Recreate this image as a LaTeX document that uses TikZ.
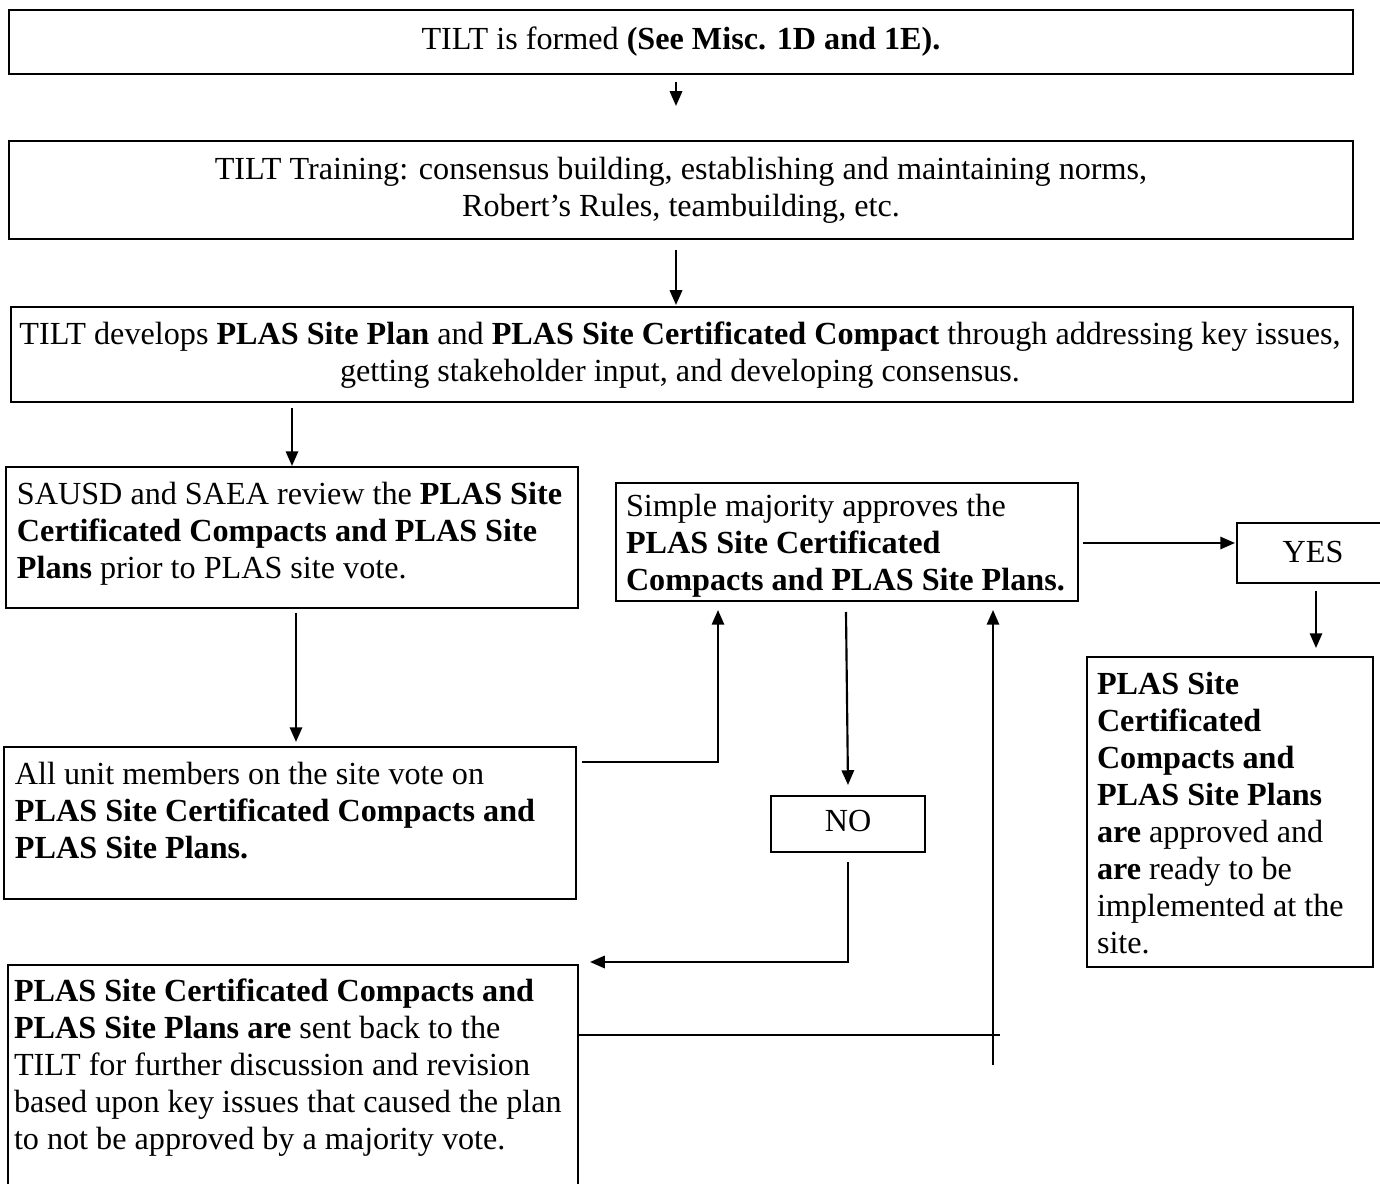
\documentclass[tikz,border=0pt]{standalone}
\usepackage{fontspec}
\setmainfont{Liberation Serif}
\usetikzlibrary{arrows.meta}
\def\upx{0.373pt}
\begin{document}
\begin{tikzpicture}[x=0.373pt,y=-0.373pt,
  box/.style={draw, line width=0.8pt, rectangle, inner sep=0pt, outer sep=0pt, anchor=north west},
  txt/.style={inner sep=0pt, outer sep=0pt, font=\fontsize{12pt}{13.8pt}\selectfont},
  conn/.style={line width=0.8pt},
  arr/.style={line width=0.8pt, -{Triangle[length=5.5pt,width=4.6pt]}}]
\useasboundingbox (0,0) rectangle (1380,1184);
% boxes
\node[box, minimum width=1344*\upx, minimum height=64*\upx] (b1) at (9,10) {};
\node[box, minimum width=1344*\upx, minimum height=98*\upx] (b2) at (9,141) {};
\node[box, minimum width=1342*\upx, minimum height=95*\upx] (b3) at (11,307) {};
\node[box, minimum width=572*\upx, minimum height=141*\upx] (b4) at (6,467) {};
\node[box, minimum width=572*\upx, minimum height=152*\upx] (b5) at (4,747) {};
\node[box, minimum width=462*\upx, minimum height=118*\upx] (b6) at (616,483) {};
\node[box, minimum width=154*\upx, minimum height=56*\upx] (b7) at (771,796) {};
\node[box, minimum width=145*\upx, minimum height=60*\upx] (b8) at (1237,523) {};
\node[box, minimum width=286*\upx, minimum height=310*\upx] (b9) at (1087,657) {};
\node[box, minimum width=570*\upx, minimum height=240*\upx] (b10) at (8,965) {};
% texts
\node[txt, anchor=base] (t1) at (681,50) {TILT is formed \textbf{(See Misc. 1D and 1E).}};
\node[txt, anchor=north, align=center] (t2) at (681,154) {\strut TILT Training: consensus building, establishing and maintaining norms,\\\strut Robert’s Rules, teambuilding, etc.};
\node[txt, anchor=north, align=center] (t3) at (680,319) {\strut TILT develops \textbf{PLAS Site Plan} and \textbf{PLAS Site Certificated Compact} through addressing key issues,\\\strut getting stakeholder input, and developing consensus.};
\node[txt, anchor=north west, align=left] (t4) at (17,479) {\strut SAUSD and SAEA review the \textbf{PLAS Site}\\\strut\textbf{Certificated Compacts and PLAS Site}\\\strut\textbf{Plans} prior to PLAS site vote.};
\node[txt, anchor=north west, align=left] (t5) at (15,759) {\strut All unit members on the site vote on\\\strut\textbf{PLAS Site Certificated Compacts and}\\\strut\textbf{PLAS Site Plans.}};
\node[txt, anchor=north west, align=left] (t6) at (626,491) {\strut Simple majority approves the\\\strut\textbf{PLAS Site Certificated}\\\strut\textbf{Compacts and PLAS Site Plans.}};
\node[txt, anchor=base] (t7) at (848,832) {NO};
\node[txt, anchor=base] (t8) at (1313,563) {YES};
\node[txt, anchor=north west, align=left] (t9) at (1097,669) {\strut\textbf{PLAS Site}\\\strut\textbf{Certificated}\\\strut\textbf{Compacts and}\\\strut\textbf{PLAS Site Plans}\\\strut\textbf{are} approved and\\\strut\textbf{are} ready to be\\\strut implemented at the\\\strut site.};
\node[txt, anchor=north west, align=left] (t10) at (14,976) {\strut\textbf{PLAS Site Certificated Compacts and}\\\strut\textbf{PLAS Site Plans are} sent back to the\\\strut TILT for further discussion and revision\\\strut based upon key issues that caused the plan\\\strut to not be approved by a majority vote.};
% connector end points
\coordinate (a1s) at (676,82);   \coordinate (a1e) at (676,106);
\coordinate (a2s) at (676,250);  \coordinate (a2e) at (676,305);
\coordinate (a3s) at (292,408);  \coordinate (a3e) at (292,466);
\coordinate (a4s) at (296,613);  \coordinate (a4e) at (296,742);
\coordinate (a5s) at (582,762);  \coordinate (a5m) at (718,762);  \coordinate (a5e) at (718,610);
\coordinate (a6s) at (846,612);  \coordinate (a6e) at (848,785);
\coordinate (a7s) at (848,862);  \coordinate (a7m) at (848,962);  \coordinate (a7e) at (590,962);
\coordinate (a8s) at (578,1035); \coordinate (a8e) at (1000,1035);
\coordinate (a9s) at (993,1065); \coordinate (a9e) at (993,610);
\coordinate (a10s) at (1083,543); \coordinate (a10e) at (1235,543);
\coordinate (a11s) at (1316,591); \coordinate (a11e) at (1316,648);
% connectors
\draw[arr] (a1s) -- (a1e);
\draw[arr] (a2s) -- (a2e);
\draw[arr] (a3s) -- (a3e);
\draw[arr] (a4s) -- (a4e);
\draw[arr] (a5s) -- (a5m) -- (a5e);
\draw[arr] (a6s) -- (a6e);
\draw[arr] (a7s) -- (a7m) -- (a7e);
\draw[conn] (a8s) -- (a8e);
\draw[arr] (a9s) -- (a9e);
\draw[arr] (a10s) -- (a10e);
\draw[arr] (a11s) -- (a11e);
\end{tikzpicture}
\end{document}
